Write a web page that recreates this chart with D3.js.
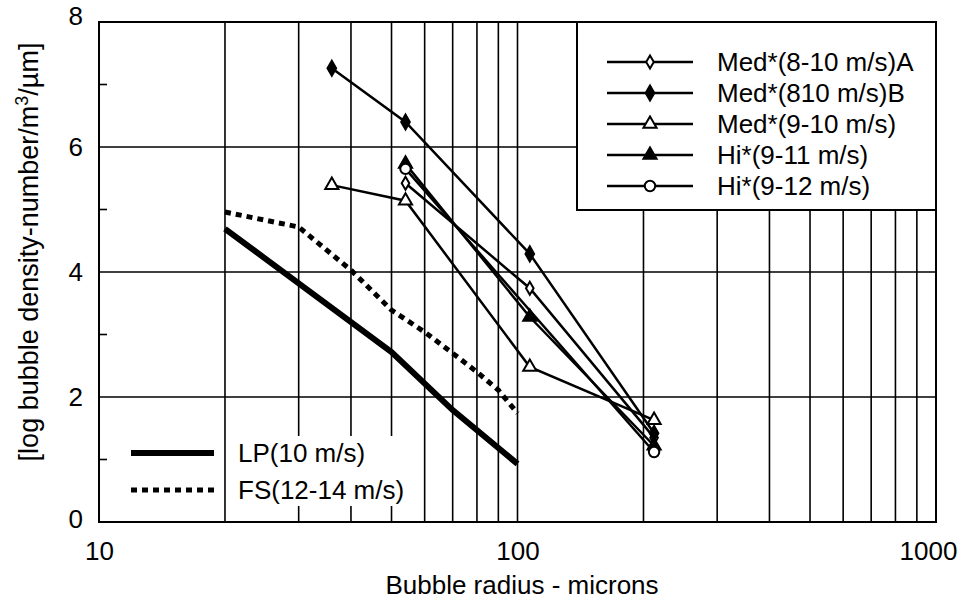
<!DOCTYPE html>
<html>
<head>
<meta charset="utf-8">
<script src="https://cdn.jsdelivr.net/npm/d3@7"></script>
<style>
  html, body { margin: 0; padding: 0; background: #fff; }
  svg { display: block; font-family: "Liberation Sans", Arial, Helvetica, sans-serif; }
</style>
</head>
<body>
<svg id="chart" width="961" height="607"></svg>
<script>
// Bubble size distributions: radius (microns) vs log bubble density
const medA_r = [54, 107, 212];
const medA_v = [5.42, 3.74, 1.35];
const medB_r = [36, 54, 107, 212];
const medB_v = [7.26, 6.40, 4.29, 1.42];
const med910_r = [36, 54, 107, 212];
const med910_v = [5.39, 5.14, 2.48, 1.63];
const hi911_r = [54, 107, 212];
const hi911_v = [5.73, 3.28, 1.22];
const hi912_r = [54, 212];
const hi912_v = [5.65, 1.12];
const lp_r = [20, 50, 70, 100];
const lp_v = [4.69, 2.72, 1.79, 0.93];
const fs_r = [20, 30, 40, 50, 60, 70, 80, 90, 100];
const fs_v = [4.96, 4.72, 4.03, 3.39, 3.04, 2.70, 2.40, 2.11, 1.74];

const xTickValues = [10, 100, 1000];
const yTickValues = [0, 2, 4, 6, 8];
const yMinorTicks = [1, 3, 5, 7];
const xGridValues = [20, 30, 40, 50, 60, 70, 80, 90, 100, 200, 300, 400, 500, 600, 700, 800, 900];

const markerSeries = [
  { name: "Med*(8-10 m/s)A", r: medA_r, v: medA_v, symbol: d3.symbolDiamond, size: 50, fill: "#fff" },
  { name: "Med*(810 m/s)B", r: medB_r, v: medB_v, symbol: d3.symbolDiamond, size: 65, fill: "#000" },
  { name: "Med*(9-10 m/s)", r: med910_r, v: med910_v, symbol: d3.symbolTriangle, size: 75, fill: "#fff" },
  { name: "Hi*(9-11 m/s)", r: hi911_r, v: hi911_v, symbol: d3.symbolTriangle, size: 75, fill: "#000" },
  { name: "Hi*(9-12 m/s)", r: hi912_r, v: hi912_v, symbol: d3.symbolCircle, size: 85, fill: "#fff" }
];
const bandSeries = [
  { name: "LP(10 m/s)", r: lp_r, v: lp_v, width: 6, dash: null },
  { name: "FS(12-14 m/s)", r: fs_r, v: fs_v, width: 5, dash: "6,5" }
];

const svg = d3.select("#chart");
const L = 99, R = 936, T = 22, B = 522;
const x = d3.scaleLog().domain([10, 1000]).range([L, R]);
const y = d3.scaleLinear().domain([0, 8]).range([B, T]);
const FONT = 26;

// grid
const grid = svg.append("g");
grid.selectAll("line.v").data(xGridValues).join("line")
  .attr("x1", d => x(d)).attr("x2", d => x(d)).attr("y1", T).attr("y2", B)
  .attr("stroke", "#000").attr("stroke-width", 1.6);
grid.selectAll("line.h").data([2, 4, 6]).join("line")
  .attr("x1", L).attr("x2", R).attr("y1", d => y(d)).attr("y2", d => y(d))
  .attr("stroke", "#000").attr("stroke-width", 1.6);
// minor ticks on the left edge
grid.selectAll("line.m").data(yMinorTicks).join("line")
  .attr("x1", L).attr("x2", L + 8).attr("y1", d => y(d)).attr("y2", d => y(d))
  .attr("stroke", "#000").attr("stroke-width", 1.6);

// white patch behind the lower-left legend text
svg.append("rect").attr("x", x(20) + 4).attr("y", 436).attr("width", 176).attr("height", 70).attr("fill", "#fff");

// frame
svg.append("rect").attr("x", L).attr("y", T).attr("width", R - L).attr("height", B - T)
  .attr("fill", "none").attr("stroke", "#000").attr("stroke-width", 2);

// axes (labels only)
const xAxis = d3.axisBottom(x).tickValues(xTickValues).tickSize(0).tickPadding(20).tickFormat(d3.format("d"));
const gx = svg.append("g").attr("transform", `translate(0,${B})`).call(xAxis);
gx.select(".domain").remove();
gx.selectAll("text").attr("font-size", FONT).attr("fill", "#000").attr("font-family", null)
  .attr("dx", d => d === 1000 ? -8 : 0);

const yAxis = d3.axisLeft(y).tickValues(yTickValues).tickSize(0).tickPadding(16).tickFormat(d3.format("d"));
const gy = svg.append("g").attr("transform", `translate(${L},0)`).call(yAxis);
gy.select(".domain").remove();
gy.selectAll("text").attr("font-size", FONT).attr("fill", "#000").attr("font-family", null)
  .attr("dy", d => d === 8 ? "0.1em" : (d === 0 ? "0.2em" : "0.32em"));

// axis titles
svg.append("text").attr("x", 522).attr("y", 594).attr("text-anchor", "middle")
  .attr("font-size", FONT).text("Bubble radius - microns");
const yt = svg.append("text").attr("transform", "translate(38,252) rotate(-90)")
  .attr("text-anchor", "middle").attr("font-size", 27);
yt.append("tspan").text("[log bubble density-number/m");
yt.append("tspan").attr("font-size", 18).attr("dy", -10).text("3");
yt.append("tspan").attr("dy", 10).text("/\u00b5m]");

const line = d3.line().x(d => x(d[0])).y(d => y(d[1]));
const pairs = s => s.r.map((r, i) => [r, s.v[i]]);

// thick band lines
bandSeries.forEach(s => {
  svg.append("path").datum(pairs(s)).attr("d", line)
    .attr("fill", "none").attr("stroke", "#000").attr("stroke-width", s.width)
    .attr("stroke-dasharray", s.dash);
});

// marker series
markerSeries.forEach(s => {
  const g = svg.append("g");
  g.append("path").datum(pairs(s)).attr("d", line)
    .attr("fill", "none").attr("stroke", "#000").attr("stroke-width", 2.5);
  g.selectAll("path.pt").data(pairs(s)).join("path")
    .attr("transform", d => `translate(${x(d[0])},${y(d[1])})`)
    .attr("d", d3.symbol().type(s.symbol).size(s.size))
    .attr("fill", s.fill).attr("stroke", "#000").attr("stroke-width", 2);
});

// upper-right legend
const lgX = 577, lgY = T, lgW = R - 577, lgH = 188;
svg.append("rect").attr("x", lgX).attr("y", lgY).attr("width", lgW).attr("height", lgH)
  .attr("fill", "#fff").attr("stroke", "#000").attr("stroke-width", 2);
markerSeries.forEach((s, i) => {
  const cy = 62 + i * 31;
  svg.append("line").attr("x1", 607).attr("x2", 693).attr("y1", cy).attr("y2", cy)
    .attr("stroke", "#000").attr("stroke-width", 2.5);
  svg.append("path").attr("transform", `translate(650,${cy})`)
    .attr("d", d3.symbol().type(s.symbol).size(s.size))
    .attr("fill", s.fill).attr("stroke", "#000").attr("stroke-width", 2);
  svg.append("text").attr("x", 717).attr("y", cy + 9).attr("font-size", FONT).text(s.name);
});

// lower-left legend
bandSeries.forEach((s, i) => {
  const cy = 453 + i * 37;
  svg.append("line").attr("x1", 131).attr("x2", 214).attr("y1", cy).attr("y2", cy)
    .attr("stroke", "#000").attr("stroke-width", s.width).attr("stroke-dasharray", s.dash);
  svg.append("text").attr("x", 238).attr("y", cy + 9).attr("font-size", FONT).text(s.name);
});
</script>
</body>
</html>
